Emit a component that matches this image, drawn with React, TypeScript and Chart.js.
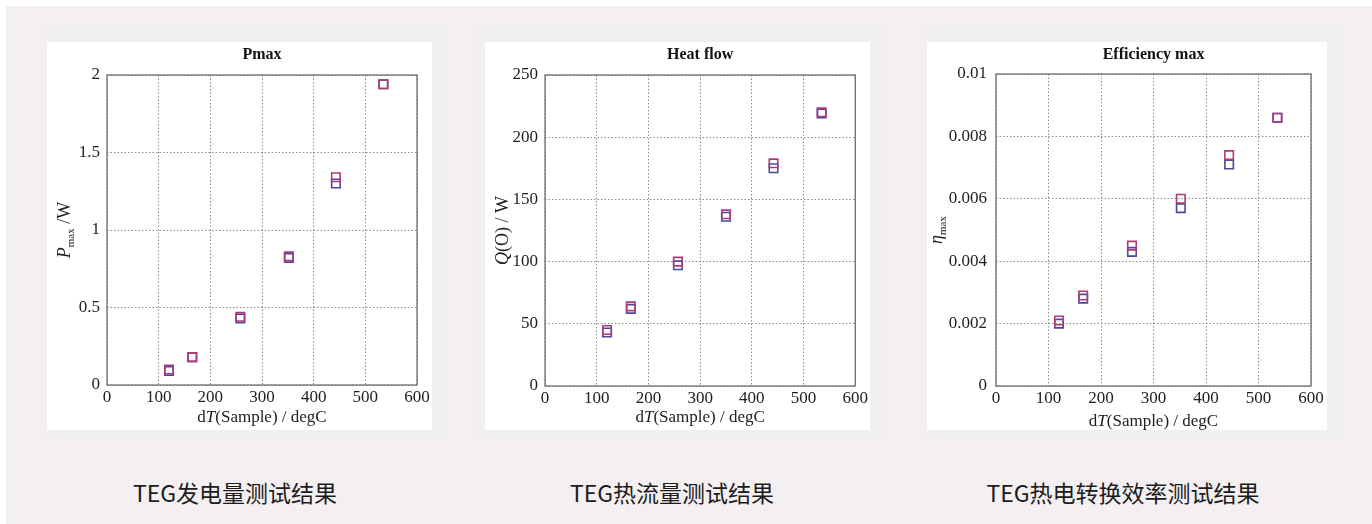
import React, { useEffect, useRef } from "react";
import { Chart, registerables } from "chart.js";

Chart.register(...registerables);

// ---------- data ----------
const xTicks = [0, 100, 200, 300, 400, 500, 600];
const xTickLabels = ["0", "100", "200", "300", "400", "500", "600"];

const pmaxX = [120, 165, 258, 352, 443, 535];
const pmaxA = [0.1, 0.18, 0.44, 0.83, 1.34, 1.94];
const pmaxB = [0.09, 0.18, 0.43, 0.82, 1.3, 1.94];
const pmaxYTicks = [0, 0.5, 1, 1.5, 2];
const pmaxYLabels = ["0", "0.5", "1", "1.5", "2"];

const heatX = [120, 166, 257, 350, 442, 535];
const heatA = [45, 64, 100, 138, 179, 220];
const heatB = [43, 62, 97, 136, 175, 219];
const heatYTicks = [0, 50, 100, 150, 200, 250];
const heatYLabels = ["0", "50", "100", "150", "200", "250"];

const effX = [120, 166, 259, 352, 444, 536];
const effA = [0.0021, 0.0029, 0.0045, 0.006, 0.0074, 0.0086];
const effB = [0.002, 0.0028, 0.0043, 0.0057, 0.0071, 0.0086];
const effYTicks = [0, 0.002, 0.004, 0.006, 0.008, 0.01];
const effYLabels = ["0", "0.002", "0.004", "0.006", "0.008", "0.01"];

const captions = ["TEG发电量测试结果", "TEG热流量测试结果", "TEG热电转换效率测试结果"];

// ---------- drawing helpers ----------
const SERIF = '"Liberation Serif", "Times New Roman", serif';
type Seg = { t: string; i?: boolean; sub?: boolean };

function drawRich(ctx: CanvasRenderingContext2D, segs: Seg[], cx: number, cy: number, size: number) {
  const fontOf = (s: Seg) => `${s.i ? "italic " : ""}${s.sub ? Math.round(size * 0.62) : size}px ${SERIF}`;
  let total = 0;
  const widths = segs.map((s) => {
    ctx.font = fontOf(s);
    const w = ctx.measureText(s.t).width;
    total += w;
    return w;
  });
  let x = cx - total / 2;
  ctx.textAlign = "left";
  ctx.textBaseline = "middle";
  segs.forEach((s, k) => {
    ctx.font = fontOf(s);
    ctx.fillText(s.t, x, cy + (s.sub ? size * 0.32 : 0));
    x += widths[k];
  });
}

const xTitle: Seg[] = [{ t: "d" }, { t: "T", i: true }, { t: "(Sample) / degC" }];

type PanelCfg = {
  left: number;
  width: number;
  title: string;
  titleGap: number;
  yTitle: Seg[];
  yTitleGap: number;
  xs: number[];
  a: number[];
  b: number[];
  yMax: number;
  yTicks: number[];
  yLabels: string[];
  yPad: number;
  plotLeft: number; // absolute
  plotRight: number;
  plotTop: number;
  plotBottom: number;
  xTitleGap: number;
};

const PANEL_TOP = 27;
const PANEL_H = 410;

const panels: PanelCfg[] = [
  {
    left: 47, width: 385, title: "Pmax", titleGap: 20,
    yTitle: [{ t: "P", i: true }, { t: "max", sub: true }, { t: " /W" }], yTitleGap: 42,
    xs: pmaxX, a: pmaxA, b: pmaxB, yMax: 2, yTicks: pmaxYTicks, yLabels: pmaxYLabels, yPad: 7,
    plotLeft: 107, plotRight: 417, plotTop: 75, plotBottom: 385, xTitleGap: 33,
  },
  {
    left: 485, width: 385, title: "Heat flow", titleGap: 20,
    yTitle: [{ t: "Q", i: true }, { t: "(O) / W" }], yTitleGap: 42,
    xs: heatX, a: heatA, b: heatB, yMax: 250, yTicks: heatYTicks, yLabels: heatYLabels, yPad: 7,
    plotLeft: 545, plotRight: 857, plotTop: 75, plotBottom: 386, xTitleGap: 32,
  },
  {
    left: 927, width: 400, title: "Efficiency max", titleGap: 19,
    yTitle: [{ t: "η", i: true }, { t: "max", sub: true }], yTitleGap: 59,
    xs: effX, a: effA, b: effB, yMax: 0.01, yTicks: effYTicks, yLabels: effYLabels, yPad: 9,
    plotLeft: 996, plotRight: 1311, plotTop: 74, plotBottom: 386, xTitleGap: 36,
  },
];

function ChartPanel({ cfg }: { cfg: PanelCfg }) {
  const ref = useRef<HTMLCanvasElement | null>(null);
  useEffect(() => {
    if (!ref.current) return;
    const padL = 4;
    const yW = cfg.plotLeft - cfg.left - padL;
    const xH = 30;
    const padR = cfg.left + cfg.width - cfg.plotRight;
    const padT = cfg.plotTop - PANEL_TOP;
    const padB = PANEL_TOP + PANEL_H - cfg.plotBottom - xH;
    const deco = {
      id: "deco",
      afterDraw(chart: any) {
        const { ctx, chartArea: ar } = chart;
        ctx.save();
        ctx.strokeStyle = "#6e6e6e";
        ctx.lineWidth = 1.3;
        ctx.strokeRect(ar.left, ar.top, ar.right - ar.left, ar.bottom - ar.top);
        ctx.fillStyle = "#111";
        ctx.font = `bold 16px ${SERIF}`;
        ctx.textAlign = "center";
        ctx.textBaseline = "middle";
        ctx.fillText(cfg.title, (ar.left + ar.right) / 2, ar.top - cfg.titleGap);
        ctx.fillStyle = "#222";
        drawRich(ctx, xTitle, (ar.left + ar.right) / 2, ar.bottom + cfg.xTitleGap, 17);
        ctx.translate(ar.left - cfg.yTitleGap, (ar.top + ar.bottom) / 2);
        ctx.rotate(-Math.PI / 2);
        drawRich(ctx, cfg.yTitle, 0, 0, 18);
        ctx.restore();
      },
    };
    const tickFont = { family: SERIF, size: 17 };
    const chart = new Chart(ref.current, {
      type: "scatter",
      data: {
        datasets: [
          {
            data: cfg.xs.map((x, i) => ({ x, y: cfg.a[i] })),
            borderColor: "#b03a78",
            backgroundColor: "rgba(0,0,0,0)",
            pointStyle: "rect",
            pointRadius: 6,
            borderWidth: 1.6,
          },
          {
            data: cfg.xs.map((x, i) => ({ x, y: cfg.b[i] })),
            borderColor: "#4a4a9c",
            backgroundColor: "rgba(0,0,0,0)",
            pointStyle: "rect",
            pointRadius: 6,
            borderWidth: 1.6,
          },
        ],
      },
      options: {
        animation: false,
        responsive: false,
        maintainAspectRatio: false,
        layout: { padding: { left: padL, right: padR, top: padT, bottom: padB } },
        plugins: { legend: { display: false }, tooltip: { enabled: false } },
        scales: {
          x: {
            type: "linear",
            min: 0,
            max: 600,
            afterFit: (s: any) => { s.height = xH; },
            afterBuildTicks: (s: any) => { s.ticks = xTicks.map((v) => ({ value: v })); },
            ticks: {
              callback: (_v: any, i: number) => xTickLabels[i],
              font: tickFont,
              color: "#1e1e1e",
              padding: 2,
              maxRotation: 0,
              autoSkip: false,
            },
            grid: { color: "#8c8c8c", lineWidth: 1, drawTicks: false },
            border: { display: false, dash: [1.5, 2] },
          },
          y: {
            type: "linear",
            min: 0,
            max: cfg.yMax,
            afterFit: (s: any) => { s.width = yW; },
            afterBuildTicks: (s: any) => { s.ticks = cfg.yTicks.map((v) => ({ value: v })); },
            ticks: {
              callback: (_v: any, i: number) => cfg.yLabels[i],
              font: tickFont,
              color: "#1e1e1e",
              padding: cfg.yPad,
              autoSkip: false,
            },
            grid: { color: "#8c8c8c", lineWidth: 1, drawTicks: false },
            border: { display: false, dash: [1.5, 2] },
          },
        },
      },
      plugins: [deco],
    } as any);
    return () => chart.destroy();
  }, [cfg]);

  return (
    <canvas
      ref={ref}
      width={cfg.width}
      height={PANEL_H}
      style={{ position: "absolute", left: cfg.left, top: PANEL_TOP, width: cfg.width, height: PANEL_H }}
    />
  );
}

export default function App() {
  const capCenters = [235, 672, 1123];
  return (
    <div style={{ position: "fixed", left: 0, top: 0, width: 1372, height: 524, background: "#ffffff", overflow: "hidden" }}>
      <div style={{ position: "absolute", left: 6, top: 6, right: 0, bottom: 0, background: "#f4eff0" }} />
      {panels.map((p, i) => (
        <div key={"bg" + i}>
          <div style={{ position: "absolute", left: p.left - 10, top: PANEL_TOP - 2, width: p.width + 25, height: 416, background: "#f1efef" }} />
          <div style={{ position: "absolute", left: p.left, top: PANEL_TOP + 15, width: p.width, height: 388, background: "#ffffff" }} />
        </div>
      ))}
      {panels.map((p, i) => (
        <ChartPanel key={i} cfg={p} />
      ))}
      {captions.map((c, i) => (
        <div
          key={"cap" + i}
          style={{
            position: "absolute",
            left: capCenters[i] - 200,
            width: 400,
            top: 478,
            textAlign: "center",
            fontFamily: '"Noto Sans CJK SC", "Noto Sans", sans-serif',
            fontSize: 23,
            lineHeight: "28px",
            color: "#1c1c1c",
          }}
        >
          {c}
        </div>
      ))}
    </div>
  );
}
